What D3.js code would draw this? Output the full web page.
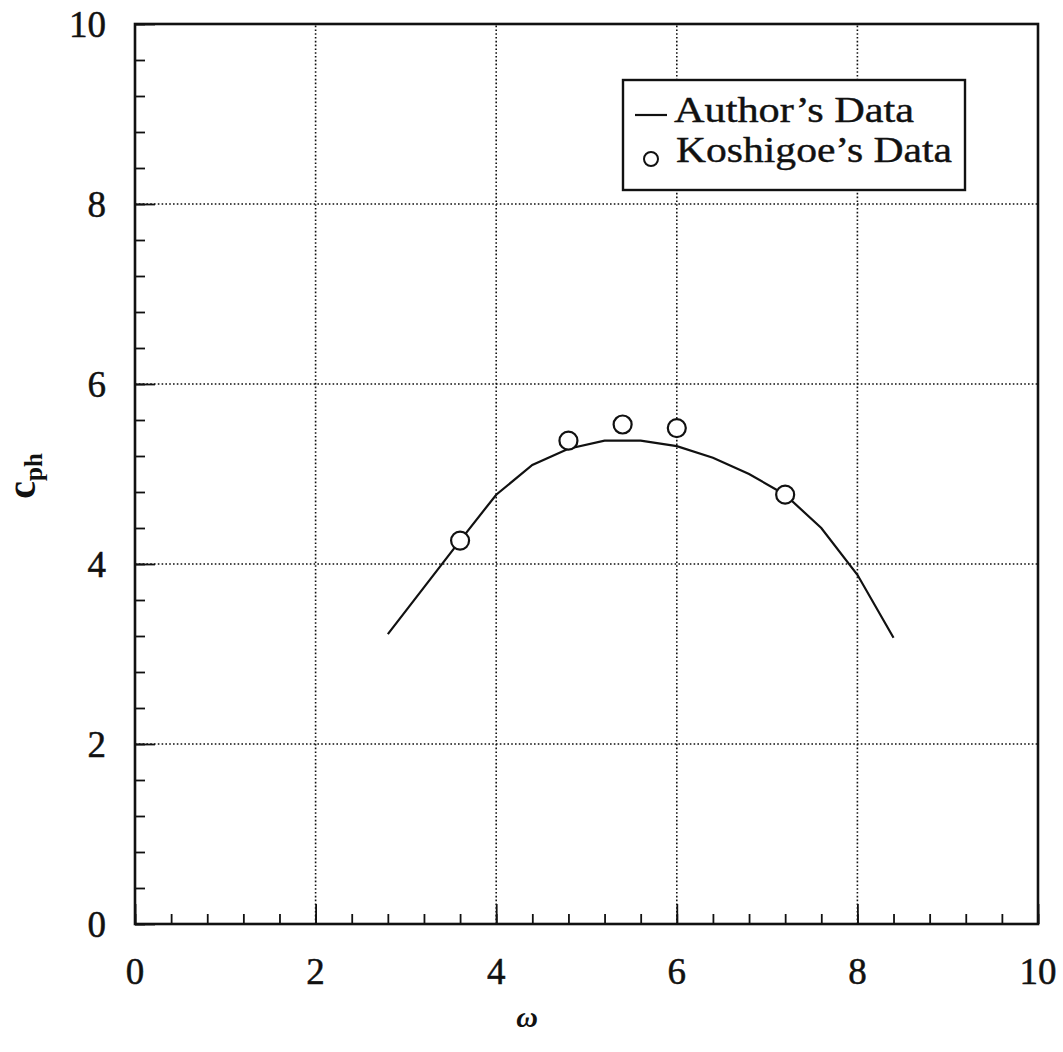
<!DOCTYPE html>
<html>
<head>
<meta charset="utf-8">
<script src="https://cdn.jsdelivr.net/npm/d3@7"></script>
<style>
  body { margin: 0; background: #fff; }
  svg { display: block; }
</style>
</head>
<body>
<svg id="chart" width="1063" height="1052"></svg>
<script>
// Data
const curveOmega = [2.8, 3.2, 3.6, 4.0, 4.4, 4.8, 5.2, 5.6, 6.0, 6.4, 6.8, 7.2, 7.6, 8.0, 8.4];
const curveCph   = [3.22, 3.74, 4.26, 4.77, 5.10, 5.28, 5.37, 5.37, 5.31, 5.18, 5.00, 4.77, 4.40, 3.88, 3.18];
const pointOmega = [3.6, 4.8, 5.4, 6.0, 7.2];
const pointCph   = [4.26, 5.37, 5.55, 5.51, 4.77];
const xTicks = [0, 2, 4, 6, 8, 10];
const yTicks = [0, 2, 4, 6, 8, 10];
const legendLabels = ["Author\u2019s Data", "Koshigoe\u2019s Data"];

const svg = d3.select("#chart");
const L = 135, R = 1038, T = 24, B = 924;
const x = d3.scaleLinear().domain([0, 10]).range([L, R]);
const y = d3.scaleLinear().domain([0, 10]).range([B, T]);
const serif = "'Liberation Serif', 'Times New Roman', serif";

// Grid (dotted)
const grid = svg.append("g");
grid.selectAll("line.gx").data(xTicks.filter(d => d > 0 && d < 10)).join("line")
  .attr("x1", d => x(d)).attr("x2", d => x(d)).attr("y1", B).attr("y2", T)
  .attr("stroke", "#111").attr("stroke-width", 1.6).attr("stroke-dasharray", "1.6,2.2");
grid.selectAll("line.gy").data(yTicks.filter(d => d > 0 && d < 10)).join("line")
  .attr("y1", d => y(d)).attr("y2", d => y(d)).attr("x1", L).attr("x2", R)
  .attr("stroke", "#111").attr("stroke-width", 1.6).attr("stroke-dasharray", "1.6,2.2");

// Axes with inward ticks
const minor = d3.range(0, 10.001, 0.4).map(v => +v.toFixed(1));
const xAxis = d3.axisBottom(x).tickValues(minor).tickSize(-10).tickFormat("");
const yAxis = d3.axisLeft(y).tickValues(minor).tickSize(-10).tickFormat("");
const gx = svg.append("g").attr("transform", `translate(0,${B})`).call(xAxis);
const gy = svg.append("g").attr("transform", `translate(${L},0)`).call(yAxis);
[gx, gy].forEach(g => {
  g.select(".domain").remove();
  g.selectAll("line").attr("stroke", "#111").attr("stroke-width", 1.8);
});
// Major ticks (longer)
const gxM = svg.append("g").attr("transform", `translate(0,${B})`)
  .call(d3.axisBottom(x).tickValues(xTicks).tickSize(-20).tickFormat(""));
const gyM = svg.append("g").attr("transform", `translate(${L},0)`)
  .call(d3.axisLeft(y).tickValues(yTicks).tickSize(-20).tickFormat(""));
[gxM, gyM].forEach(g => {
  g.select(".domain").remove();
  g.selectAll("line").attr("stroke", "#111").attr("stroke-width", 1.8);
});

// Frame
svg.append("rect").attr("x", L).attr("y", T).attr("width", R - L).attr("height", B - T)
  .attr("fill", "none").attr("stroke", "#111").attr("stroke-width", 2.6);

// Tick labels
svg.append("g").selectAll("text").data(xTicks).join("text")
  .attr("x", d => x(d)).attr("y", 984)
  .attr("text-anchor", "middle")
  .attr("font-family", serif).attr("font-size", 37).attr("fill", "#111")
  .attr("stroke", "#111").attr("stroke-width", 0.5)
  .text(d => d);
svg.append("g").selectAll("text").data(yTicks).join("text")
  .attr("x", 106).attr("y", d => y(d)).attr("dy", "0.35em")
  .attr("text-anchor", "end")
  .attr("font-family", serif).attr("font-size", 37).attr("fill", "#111")
  .attr("stroke", "#111").attr("stroke-width", 0.5)
  .text(d => d);

// Axis titles
svg.append("text").attr("x", 527).attr("y", 1027).attr("text-anchor", "middle")
  .attr("font-family", serif).attr("font-size", 30).attr("font-weight", "bold")
  .attr("font-style", "italic").attr("fill", "#111").text("\u03C9");
const yl = svg.append("text").attr("transform", "translate(35,476) rotate(-90)")
  .attr("text-anchor", "middle").attr("font-family", serif)
  .attr("font-weight", "bold").attr("fill", "#111");
yl.append("tspan").attr("font-size", 40).text("c");
yl.append("tspan").attr("font-size", 25).attr("dy", 7).text("ph");

// Curve
const curveData = curveOmega.map((w, i) => [w, curveCph[i]]);
svg.append("path").datum(curveData)
  .attr("d", d3.line().x(d => x(d[0])).y(d => y(d[1])))
  .attr("fill", "none").attr("stroke", "#111").attr("stroke-width", 2.2);

// Points
const pts = pointOmega.map((w, i) => [w, pointCph[i]]);
svg.append("g").selectAll("circle").data(pts).join("circle")
  .attr("cx", d => x(d[0])).attr("cy", d => y(d[1])).attr("r", 9)
  .attr("fill", "#fff").attr("stroke", "#111").attr("stroke-width", 2.2);

// Legend
const lg = svg.append("g");
lg.append("rect").attr("x", 623).attr("y", 80).attr("width", 342).attr("height", 110)
  .attr("fill", "#fff").attr("stroke", "#111").attr("stroke-width", 2.4);
lg.append("line").attr("x1", 635).attr("x2", 667).attr("y1", 115).attr("y2", 115)
  .attr("stroke", "#111").attr("stroke-width", 2.2);
lg.append("circle").attr("cx", 651).attr("cy", 159).attr("r", 7)
  .attr("fill", "#fff").attr("stroke", "#111").attr("stroke-width", 2);
lg.selectAll("text").data(legendLabels).join("text")
  .attr("x", (d, i) => i === 0 ? 674 : 676).attr("y", (d, i) => i === 0 ? 122 : 162)
  .attr("font-family", serif).attr("font-size", 36).attr("fill", "#111")
  .attr("stroke", "#111").attr("stroke-width", 0.4)
  .attr("textLength", (d, i) => i === 0 ? 240 : 276)
  .attr("lengthAdjust", "spacingAndGlyphs")
  .text(d => d);
</script>
</body>
</html>
